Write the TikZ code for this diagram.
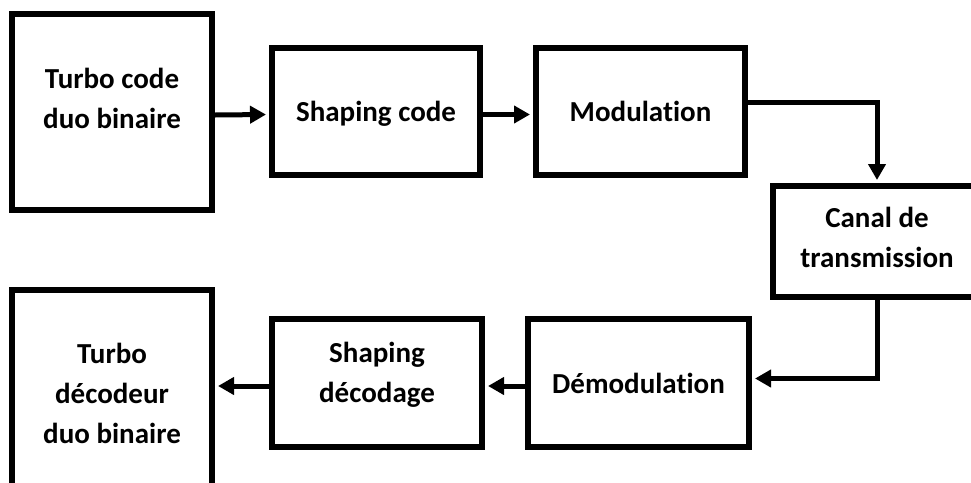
\documentclass[tikz,border=0pt]{standalone}
\usepackage{fontspec}
\setmainfont{Carlito}[Ligatures={NoCommon,NoRequired}]
\usetikzlibrary{arrows.meta}
\begin{document}
\begin{tikzpicture}[x=1pt,y=-1pt,
        bloc/.style={draw, line width=6pt, align=center, inner sep=0pt, font=\fontsize{29}{40}\selectfont\bfseries},
        fleche/.style={line width=5pt, shorten >=3pt, -{Triangle[length=16pt, width=17pt]}}]
            \useasboundingbox (0,0) rectangle (971,482);

            \node[bloc, minimum width=200pt, minimum height=196pt, text depth=27pt] (tcode) at (112,112) {Turbo code\\duo binaire};
            \node[bloc, minimum width=208pt, minimum height=127pt, text depth=1pt] (scode) at (376,111.5) {Shaping code};
            \node[bloc, minimum width=209pt, minimum height=127pt] (modu) at (640.5,111.5) {Modulation};
            \node[bloc, minimum width=208pt, minimum height=111pt, text depth=8pt] (canal) at (877,241.5) {Canal de\\transmission};
            \node[bloc, minimum width=221pt, minimum height=128pt] (demod) at (638.5,383) {Démodulation};
            \node[bloc, minimum width=210pt, minimum height=128pt, text depth=22pt] (sdec) at (377,383) {Shaping\\décodage};
            \node[bloc, minimum width=200pt, minimum height=206pt] (tdec) at (112,393) {Turbo\\décodeur\\duo binaire};

            \draw[fleche] ([yshift=-3pt]tcode.east) -- ([yshift=-3pt]scode.west);
            \draw[fleche] ([yshift=-3pt]scode.east) -- ([yshift=-3pt]modu.west);
            \draw[fleche] ([yshift=9.5pt]modu.east) -| (canal.north);
            \draw[fleche] (canal.south) |- ([yshift=4.5pt]demod.east);
            \draw[fleche] ([yshift=-3pt]demod.west) -- ([yshift=-3pt]sdec.east);
            \draw[fleche] ([yshift=-3pt]sdec.west) -- ([yshift=-3pt]sdec.west -| tdec.east);
        \end{tikzpicture}
\end{document}
